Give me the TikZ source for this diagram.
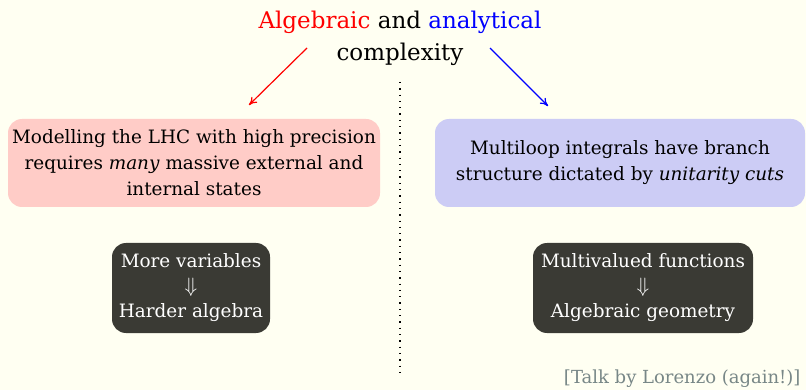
\documentclass[tikz,border=0pt]{standalone}
\usepackage{fontspec}
\setmainfont{DejaVu Serif}
\usetikzlibrary{arrows.meta}
\definecolor{paper}{RGB}{255,255,242}
\definecolor{redbox}{RGB}{255,204,199}
\definecolor{bluebox}{RGB}{204,204,245}
\definecolor{darkbox}{RGB}{58,58,52}
\definecolor{footgray}{RGB}{120,135,135}
\newcommand{\implarrow}{{\fontsize{22}{22}\selectfont$\Downarrow$}}
\tikzset{
  claim/.style={rounded corners=14pt, minimum height=88pt, align=center,
    font=\fontsize{18.4}{26}\selectfont, inner sep=0pt},
  result/.style={rounded corners=14pt, fill=darkbox, text=white, minimum height=90pt,
    align=center, font=\fontsize{18.4}{25}\selectfont, inner sep=0pt},
  branch/.style={-{To[length=8pt,width=8pt]}, line width=1.2pt}
}
\begin{document}
\begin{tikzpicture}[x=1pt,y=-1pt]
  \fill[paper] (0,0) rectangle (806,390);
  \useasboundingbox (0,0) rectangle (806,390);

  \node[align=center, font=\fontsize{23}{32}\selectfont] (title) at (400,38)
    {\textcolor{red}{Algebraic} and \textcolor{blue}{analytical}\\complexity};

  \coordinate (redstart) at (307,48);
  \coordinate (redend) at (249,105);
  \coordinate (bluestart) at (490,48);
  \coordinate (blueend) at (548,106);
  \draw[branch, red] (redstart) -- (redend);
  \draw[branch, blue] (bluestart) -- (blueend);

  \coordinate (divtop) at (400,82);
  \coordinate (divbot) at (400,376);
  \draw[line width=1.3pt, dash pattern=on 1.3pt off 5pt] (divtop) -- (divbot);

  \node[claim, fill=redbox, minimum width=372pt] (lhc) at (194,163)
    {Modelling the LHC with high precision\\requires \emph{many} massive external and\\internal states};
  \node[claim, fill=bluebox, minimum width=370pt] (loops) at (620,163)
    {Multiloop integrals have branch\\structure dictated by \emph{unitarity cuts}};

  \node[result, minimum width=158pt] (alg) at (191,288)
    {More variables\\\implarrow\\Harder algebra};
  \node[result, minimum width=220pt] (geo) at (643,288)
    {Multivalued functions\\\implarrow\\Algebraic geometry};

  \node[anchor=east, text=footgray, font=\fontsize{18}{20}\selectfont] (talk) at (804,379)
    {[Talk by Lorenzo (again!)]};
\end{tikzpicture}
\end{document}
